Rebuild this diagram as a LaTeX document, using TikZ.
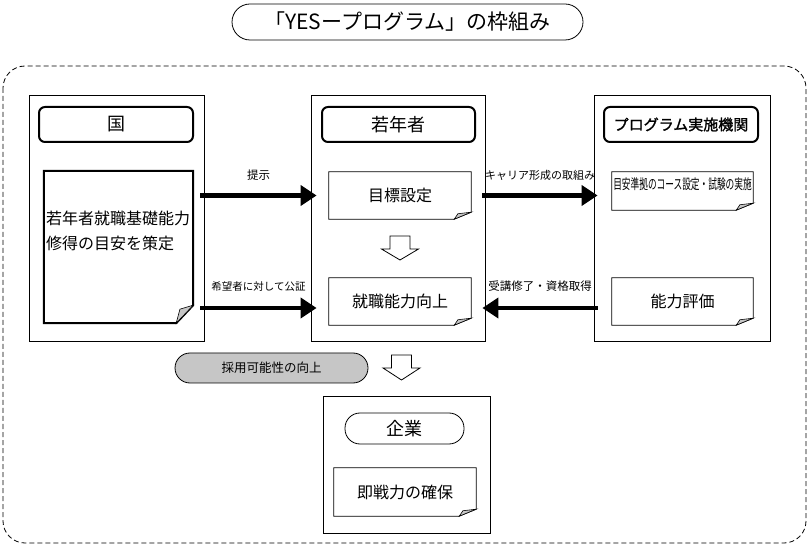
\documentclass[tikz,border=0pt]{standalone}
\usepackage{fontspec}
\setmainfont{Noto Sans CJK JP}
\newfontfamily\jpbold{Noto Sans CJK JP}[FakeBold=1.5]
\usepackage{graphicx}
\usetikzlibrary{positioning, calc, arrows.meta}

% document outline with folded corner: node, line width, fold width, fold height
\newcommand{\docfold}[4]{%
  \draw[line width=#2] (#1.north west) -- (#1.north east) -- ([yshift=#4]#1.south east)
    -- ([xshift=-#3]#1.south east) -- (#1.south west) -- cycle;
  \filldraw[fill=gray!45, line width=0.6pt] ([yshift=#4]#1.south east)
    -- ([xshift=-0.78*#3, yshift=0.78*#4]#1.south east) -- ([xshift=-#3]#1.south east) -- cycle;
}
% hollow block arrow pointing down: centre x, top y, head length
\newcommand{\blockdown}[3]{%
  \draw[blockarrow] (#1-10,#2) -- (#1+10,#2) -- (#1+10,#2+13) -- (#1+18.5,#2+13)
    -- (#1,#2+13+#3) -- (#1-18.5,#2+13) -- (#1-10,#2+13) -- cycle;
}

\tikzset{
  colbox/.style={draw, line width=0.8pt, minimum width=175pt, minimum height=246pt, inner sep=0pt},
  hdrbox/.style={draw, line width=2pt, rounded corners=6pt, minimum width=154pt, minimum height=35pt,
    inner sep=0pt, font=\fontsize{18pt}{20pt}\selectfont},
  docbox/.style={minimum width=142pt, minimum height=47pt, inner sep=0pt, font=\fontsize{16pt}{18pt}\selectfont},
  pill/.style={draw, line width=0.8pt, rounded corners=15pt, inner sep=0pt},
  flow/.style={line width=4.5pt, -{Triangle[length=16pt, width=20pt]}},
  flowlabel/.style={font=\fontsize{11.5pt}{14pt}\selectfont, above=9pt, midway},
  blockarrow/.style={draw, line width=0.8pt, fill=white, line join=miter},
}

\begin{document}
\begin{tikzpicture}[x=1pt, y=-1pt]
  \useasboundingbox (0,0) rectangle (809,545);

  % title and frame
  \node (title) [draw, line width=0.8pt, rounded corners=18pt, minimum width=351pt, minimum height=36pt,
    font=\fontsize{21pt}{24pt}\selectfont] at (407.5,22) {「YESープログラム」の枠組み};
  \draw[line width=0.8pt, dash pattern=on 5pt off 3pt, rounded corners=22pt] (3,66) rectangle (806,543);

  % columns
  \node (colL) [colbox] at (116.5,218) {};
  \node (colM) [colbox, minimum width=174pt] at (398,218) {};
  \node (colR) [colbox, minimum width=176pt] at (682,218) {};

  \node (hdrL) [hdrbox] at (116,124.5) {国};
  \node (hdrM) [hdrbox, minimum width=153pt] at (398.5,124.5) {若年者};
  \node (hdrR) [hdrbox, font=\fontsize{15pt}{18pt}\jpbold] at (681,124.5) {プログラム実施機関};

  % left: guideline document
  \node (docL) [docbox, minimum width=149pt, minimum height=152pt] at (118.5,247) {};
  \docfold{docL}{2pt}{17pt}{18pt}
  \node (txtL) [anchor=west, align=left, inner sep=0pt, font=\fontsize{16pt}{25pt}\selectfont]
    at (46,230.5) {若年者就職基礎能力\\修得の目安を策定};

  % middle
  \node (docM1) [docbox] at (400,195.5) {目標設定};
  \docfold{docM1}{0.8pt}{17pt}{7pt}
  \node (docM2) [docbox] at (400,301.5) {就職能力向上};
  \docfold{docM2}{0.8pt}{17pt}{7pt}
  \blockdown{400}{236}{11}

  % right
  \node (docR1) [docbox, minimum width=141pt, minimum height=38pt] at (682.5,191) {};
  \docfold{docR1}{0.8pt}{17pt}{7pt}
  \node (txtR1) [inner sep=0pt, font=\fontsize{14pt}{16pt}\selectfont] at (682.5,184)
    {\scalebox{0.62}[1]{目安準拠のコース設定・試験の実施}};
  \node (docR2) [docbox, minimum width=141pt] at (682.5,301.5) {能力評価};
  \docfold{docR2}{0.8pt}{17pt}{7pt}

  % flows
  \draw[flow] ($(colL.east |- docM1.west)+(-4,0)$) -- node[flowlabel] {提示} ($(colM.west |- docM1.west)+(6,0)$);
  \draw[flow] ($(colL.east |- docM2.west)+(-4,6.5)$) -- node[flowlabel, above=11pt, font=\fontsize{10.5pt}{12pt}\selectfont] {希望者に対して公証} ($(colM.west |- docM2.west)+(6,6.5)$);
  \draw[flow] ($(colM.east |- docM1.east)+(-3,0)$) -- node[flowlabel, font=\fontsize{11pt}{13pt}\selectfont] {キャリア形成の取組み} ($(colR.west |- docM1.east)+(4,0)$);
  \draw[flow] ($(colR.west |- docM2.east)+(4,6.5)$) -- node[flowlabel, above=11pt] {受講修了・資格取得} ($(colM.east |- docM2.east)+(-3,6.5)$);

  % employment
  \node (hire) [pill, fill=gray!45, minimum width=193pt, minimum height=30pt,
    font=\fontsize{12.5pt}{14pt}\selectfont] at (271.5,368) {採用可能性の向上};
  \blockdown{401.5}{355}{12}

  % company
  \node (colB) [colbox, minimum width=167pt, minimum height=137pt] at (406.5,464.5) {};
  \node (hdrB) [pill, minimum width=119pt, minimum height=31pt, font=\fontsize{18pt}{20pt}\selectfont]
    at (404.5,428.5) {企業};
  \node (docB) [docbox, minimum height=48pt] at (405,492) {即戦力の確保};
  \docfold{docB}{0.8pt}{17pt}{7pt}
\end{tikzpicture}
\end{document}
